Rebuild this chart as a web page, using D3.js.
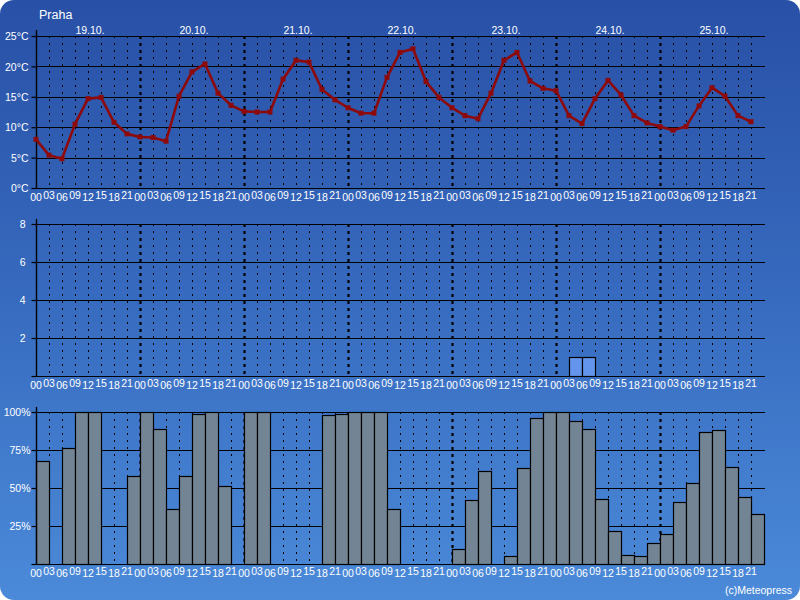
<!DOCTYPE html>
<html>
<head>
<meta charset="utf-8">
<script src="https://cdn.jsdelivr.net/npm/d3@7"></script>
<style>
html,body{margin:0;padding:0;background:#ffffff;}
svg{display:block;}
text{font-family:"Liberation Sans",Arial,sans-serif;fill:#ffffff;}
</style>
</head>
<body>
<svg id="chart" width="800" height="600"></svg>
<script>
const city = "Praha";
const days = ["19.10.","20.10.","21.10.","22.10.","23.10.","24.10.","25.10."];
const hours = ["00","03","06","09","12","15","18","21"];
const temperature = [
  8.0,5.4,4.8,10.5,14.7,14.9,10.8,8.9,
  8.4,8.3,7.7,15.1,19.1,20.4,15.6,13.6,
  12.6,12.5,12.5,17.9,21.0,20.7,16.2,14.5,
  13.2,12.3,12.3,18.2,22.3,22.9,17.5,14.9,
  13.2,11.9,11.4,15.6,21.0,22.3,17.6,16.4,
  16.0,11.9,10.6,14.7,17.7,15.3,11.9,10.7,
  10.1,9.5,10.1,13.5,16.5,15.1,11.9,10.9
];
const precipitation = [
  0,0,0,0,0,0,0,0,
  0,0,0,0,0,0,0,0,
  0,0,0,0,0,0,0,0,
  0,0,0,0,0,0,0,0,
  0,0,0,0,0,0,0,0,
  0,1,1,0,0,0,0,0,
  0,0,0,0,0,0,0,0
];
const cloudiness = [
  68,0,76,100,100,0,0,58,
  100,89,36,58,99,100,51,0,
  100,100,0,0,0,0,98,99,
  100,100,100,36,0,0,0,0,
  10,42,61,0,5,63,96,100,
  100,94,89,43,22,6,5,14,
  20,41,53,87,88,64,44,33
];
const tempTicks = [0,5,10,15,20,25];
const precipTicks = [2,4,6,8];
const cloudTicks = [25,50,75,100];

const svg = d3.select("#chart");
const defs = svg.append("defs");
const grad = defs.append("linearGradient").attr("id","bg").attr("x1",0).attr("y1",0).attr("x2",0).attr("y2",1);
grad.append("stop").attr("offset","0%").attr("stop-color","#2850a6");
grad.append("stop").attr("offset","50%").attr("stop-color","#376bbf");
grad.append("stop").attr("offset","100%").attr("stop-color","#4b8ad9");
svg.append("rect").attr("x",0).attr("y",0).attr("width",800).attr("height",600)
  .attr("rx",14).attr("ry",14).attr("fill","url(#bg)");

const n = temperature.length;
const x = d3.scaleLinear().domain([0, n]).range([36, 764]);
const yT = d3.scaleLinear().domain([0,25]).range([188,36]);
const yP = d3.scaleLinear().domain([0,8]).range([376,224]);
const yC = d3.scaleLinear().domain([0,100]).range([564,412]);
const idx = d3.range(n);

svg.append("text").attr("x",39).attr("y",19).attr("font-size",12.5).text(city);

function verticals(g, y0, y1){
  g.selectAll("line.v").data(idx.filter(i=>i>0)).enter().append("line")
    .attr("x1",i=>Math.round(x(i))+0.5).attr("x2",i=>Math.round(x(i))+0.5)
    .attr("y1",y0).attr("y2",y1)
    .attr("stroke","#000")
    .attr("stroke-width",i=>i%8===0?2.2:1)
    .attr("stroke-dasharray",i=>i%8===0?"3,4":"2,5");
}
function horizontals(g, scale, ticks){
  g.selectAll("line.h").data(ticks).enter().append("line")
    .attr("x1",36).attr("x2",765)
    .attr("y1",d=>Math.round(scale(d))+0.5).attr("y2",d=>Math.round(scale(d))+0.5)
    .attr("stroke","#000").attr("stroke-width",1.2);
}
function hourLabels(g, baseY){
  g.selectAll("text.h").data(idx).enter().append("text")
    .attr("x",i=>x(i)).attr("y",i=>i%2===0?baseY+12.5:baseY+10.5)
    .attr("text-anchor","middle").attr("font-size",10.5)
    .text(i=>hours[i%8]);
}
function yAxis(g, scale, ticks, fmt, labelRight, top){
  const ax = d3.axisLeft(scale).tickValues(ticks).tickSize(5).tickFormat(fmt);
  const a = g.append("g").attr("transform","translate(36.5,0)").call(ax);
  a.select(".domain").remove();
  a.selectAll(".tick line").attr("stroke","#000").attr("stroke-width",1.2);
  a.selectAll(".tick text").attr("x",labelRight-36).attr("fill","#fff")
    .attr("font-size",10.5).attr("font-family","Liberation Sans, Arial, sans-serif")
    .attr("dy","0.35em");
  const r = scale.range();
  g.append("line").attr("x1",36.5).attr("x2",36.5).attr("y1",top).attr("y2",r[0])
    .attr("stroke","#000").attr("stroke-width",1.4);
}

// ---- Temperature panel
const gT = svg.append("g");
verticals(gT, yT(25), yT(0));
horizontals(gT, yT, tempTicks);
yAxis(gT, yT, tempTicks, d=>d+"°C", 28, 30);
hourLabels(gT, 188);
gT.selectAll("text.d").data(days).enter().append("text")
  .attr("x",(d,i)=>x(i*8+4)+2).attr("y",34).attr("text-anchor","middle").attr("font-size",10.5)
  .text(d=>d);
const line = d3.line().x((d,i)=>x(i)).y(d=>yT(d));
gT.append("path").datum(temperature).attr("d",line).attr("fill","none")
  .attr("stroke","#8e0a0a").attr("stroke-width",2.6).attr("stroke-linejoin","round");
gT.selectAll("rect.m").data(temperature).enter().append("rect")
  .attr("x",(d,i)=>x(i)-2.5).attr("y",d=>yT(d)-2.5).attr("width",5).attr("height",5)
  .attr("fill","#8e0a0a");

// ---- Precipitation panel
const gP = svg.append("g");
verticals(gP, yP(8), yP(0));
horizontals(gP, yP, [0].concat(precipTicks));
yAxis(gP, yP, [0].concat(precipTicks), d=>d===0?"":d, 25, 219);
hourLabels(gP, 376);
gP.selectAll("rect.p").data(idx.filter(i=>precipitation[i]>0)).enter().append("rect")
  .attr("x",i=>Math.round(x(i))+0.5).attr("width",i=>Math.round(x(i+1))-Math.round(x(i)))
  .attr("y",i=>Math.round(yP(precipitation[i]))+0.5)
  .attr("height",i=>Math.round(yP(0))-Math.round(yP(precipitation[i])))
  .attr("fill","#6495ed").attr("stroke","#000").attr("stroke-width",1.2);

// ---- Cloudiness panel
const gC = svg.append("g");
verticals(gC, yC(100), yC(0));
horizontals(gC, yC, [0].concat(cloudTicks));
gC.selectAll("rect.c").data(idx.filter(i=>cloudiness[i]>0)).enter().append("rect")
  .attr("x",i=>Math.round(x(i))+0.5).attr("width",i=>Math.round(x(i+1))-Math.round(x(i)))
  .attr("y",i=>Math.round(yC(cloudiness[i]))+0.5)
  .attr("height",i=>Math.round(yC(0))-Math.round(yC(cloudiness[i])))
  .attr("fill","#738594").attr("stroke","#000").attr("stroke-width",1.2);
yAxis(gC, yC, [0].concat(cloudTicks), d=>d===0?"":d+"%", 30, 407);
hourLabels(gC, 564);

svg.append("text").attr("x",792).attr("y",594).attr("text-anchor","end").attr("font-size",10.5)
  .text("(c)Meteopress");
</script>
</body>
</html>
